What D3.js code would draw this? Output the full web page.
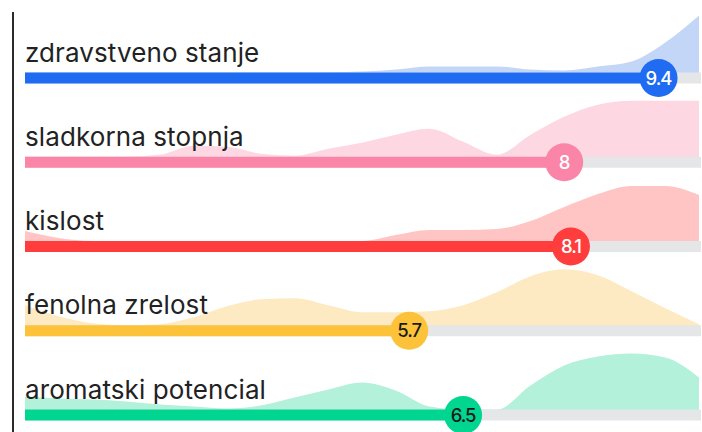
<!DOCTYPE html>
<html>
<head>
<meta charset="utf-8">
<script src="https://cdn.jsdelivr.net/npm/d3@7"></script>
<style>
  html, body { margin: 0; padding: 0; background: #ffffff; }
  svg { display: block; }
</style>
</head>
<body>
<svg id="chart" width="702" height="432"></svg>
<script>
// Ratings (0–10) for each attribute
const categories = ["zdravstveno stanje", "sladkorna stopnja", "kislost", "fenolna zrelost", "aromatski potencial"];
const scores = [9.4, 8, 8.1, 5.7, 6.5];

// Distribution of ratings sampled every 0.5 point on the 0–10 scale
const densitySteps = [0, 0.5, 1, 1.5, 2, 2.5, 3, 3.5, 4, 4.5, 5, 5.5, 6, 6.5, 7, 7.5, 8, 8.5, 9, 9.5, 10];
const densityHealth = [0, 0, 0, 0, 0, 0, 0, 0, 0, 0.3, 1, 3, 6, 6, 6, 3, 2, 6, 11, 30, 57];
const densitySugar  = [0, 0, 0, 0, 2, 11, 10, 3, 1, 8, 14, 22, 28, 15, 2, 22, 40, 52, 56, 56, 56];
const densityAcid   = [10, 3, 0, 0, 0, 0, 0, 0, 0, 0, 0, 6, 11, 11, 12, 20, 34, 47, 55, 55, 46];
const densityPhenol = [20, 9, 2, 0, 1, 8, 19, 26, 27, 20, 13, 13, 14, 20, 33, 49, 56, 50, 34, 17, 1];
const densityAroma  = [13, 11, 10, 8, 5, 3, 1, 4, 12, 20, 27, 19, 3, 0, 0, 24, 44, 53, 56, 52, 32];
const densities = [densityHealth, densitySugar, densityAcid, densityPhenol, densityAroma];

const barColors  = ["#1f6cf2", "#fb85a8", "#ff3d3d", "#fcc33a", "#00d68f"];
const areaColors = ["#c3d6f8", "#fdd7e2", "#ffc5c5", "#fdeac3", "#b3f1da"];
const valueTextColors = ["#ffffff", "#ffffff", "#ffffff", "#1b1b1b", "#1b1b1b"];

const svg = d3.select("#chart");
const W = 702, H = 432;

const x = d3.scaleLinear().domain([0, 10]).range([25, 699]);
const row = d3.scalePoint().domain(categories).range([78, 415]);
const densityMax = d3.max(densities, d => d3.max(d));
const h = d3.scaleLinear().domain([0, densityMax]).range([0, 57]);

const barH = 11;
const r = 19;

// vertical guide on the left
svg.append("line")
  .attr("x1", 13).attr("x2", 13)
  .attr("y1", 12).attr("y2", H)
  .attr("stroke", "#2b2b2b").attr("stroke-width", 2);

const rows = svg.selectAll("g.row")
  .data(categories.map((c, i) => ({ c, i, score: scores[i], dens: densities[i] })))
  .join("g").attr("class", "row");

// distribution area behind each bar
rows.append("path")
  .attr("fill", d => areaColors[d.i])
  .attr("d", d => {
    const cy = row(d.c);
    const area = d3.area()
      .x((v, k) => x(densitySteps[k]))
      .y0(cy)
      .y1(v => cy - barH / 2 - h(v))
      .curve(d3.curveMonotoneX);
    return area(d.dens);
  });

// grey track
rows.append("rect")
  .attr("x", x(0)).attr("width", x(10) - x(0) + 2)
  .attr("y", d => row(d.c) - barH / 2).attr("height", barH)
  .attr("fill", "#e5e6e7");

// value bar
rows.append("rect")
  .attr("x", x(0)).attr("width", d => x(d.score) - x(0))
  .attr("y", d => row(d.c) - barH / 2).attr("height", barH)
  .attr("fill", d => barColors[d.i]);

// attribute label
rows.append("text")
  .attr("x", x(0)).attr("y", d => row(d.c) - barH / 2 - 11)
  .attr("font-family", "Inter, 'Noto Sans', sans-serif")
  .attr("font-size", 26).attr("letter-spacing", 0.1)
  .attr("fill", "#222222")
  .text(d => d.c);

// value markers drawn last so they sit above neighbouring areas
const markers = svg.selectAll("g.marker")
  .data(categories.map((c, i) => ({ c, i, score: scores[i] })))
  .join("g").attr("class", "marker")
  .attr("transform", d => `translate(${x(d.score)},${row(d.c)})`);

markers.append("circle").attr("r", r).attr("fill", d => barColors[d.i]);
markers.append("text")
  .attr("text-anchor", "middle").attr("dy", "0.36em")
  .attr("font-family", "Inter, 'Noto Sans', sans-serif")
  .attr("font-size", 18.5).attr("font-weight", 500).attr("letter-spacing", -1)
  .attr("fill", d => valueTextColors[d.i])
  .text(d => d.score);
</script>
</body>
</html>
